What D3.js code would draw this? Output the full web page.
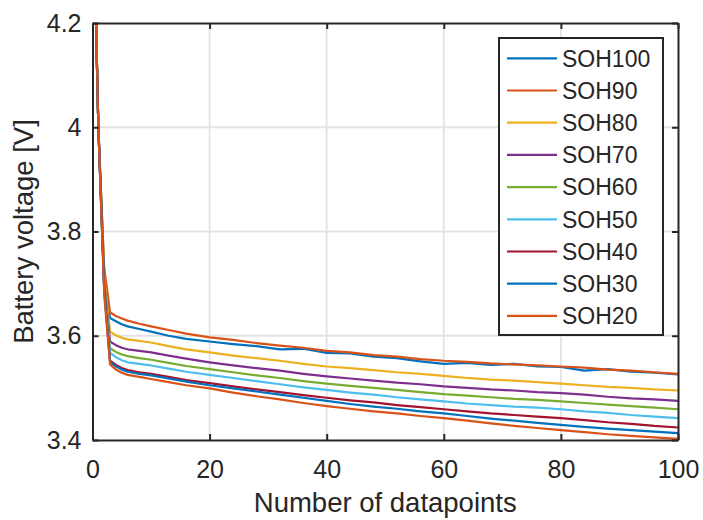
<!DOCTYPE html>
<html>
<head>
<meta charset="utf-8">
<script src="https://cdn.jsdelivr.net/npm/d3@7"></script>
<style>
  html, body { margin: 0; padding: 0; background: #fff; }
  svg { display: block; }
  text { font-family: "Liberation Sans", Arial, Helvetica, sans-serif; fill: #262626; }
</style>
</head>
<body>
<svg id="chart" width="703" height="520"></svg>
<script>
// ---------------- data ----------------
const xValues = [0,1,2,3,4,5,6,8,10,13,16,20,24,28,32,36,40,44,48,52,56,60,64,68,72,76,80,84,88,92,96,100];

const seriesNames = ["SOH100","SOH90","SOH80","SOH70","SOH60","SOH50","SOH40","SOH30","SOH20"];

const soh100 = [4.50,4.00,3.72,3.634,3.628,3.622,3.618,3.613,3.608,3.600,3.594,3.589,3.584,3.580,3.574,3.575,3.567,3.566,3.560,3.557,3.551,3.546,3.548,3.544,3.546,3.541,3.540,3.533,3.536,3.531,3.529,3.526];
const soh90  = [4.50,4.00,3.73,3.645,3.638,3.633,3.629,3.623,3.618,3.611,3.604,3.597,3.592,3.586,3.581,3.577,3.571,3.568,3.563,3.560,3.555,3.552,3.550,3.547,3.545,3.543,3.541,3.539,3.535,3.533,3.530,3.527];
const soh80  = [4.50,4.00,3.71,3.608,3.601,3.596,3.593,3.590,3.587,3.580,3.574,3.568,3.562,3.557,3.552,3.546,3.541,3.538,3.534,3.530,3.527,3.523,3.519,3.516,3.514,3.511,3.508,3.505,3.502,3.500,3.497,3.495];
const soh70  = [4.50,4.00,3.70,3.589,3.582,3.577,3.574,3.571,3.568,3.562,3.556,3.549,3.543,3.538,3.533,3.527,3.522,3.518,3.514,3.510,3.507,3.503,3.500,3.497,3.495,3.492,3.490,3.487,3.483,3.480,3.478,3.475];
const soh60  = [4.50,4.00,3.70,3.576,3.569,3.564,3.561,3.557,3.554,3.548,3.542,3.536,3.530,3.524,3.519,3.513,3.508,3.504,3.500,3.496,3.492,3.488,3.485,3.482,3.479,3.477,3.474,3.471,3.468,3.465,3.462,3.459];
const soh50  = [4.50,4.00,3.69,3.567,3.559,3.553,3.549,3.546,3.543,3.537,3.531,3.525,3.519,3.513,3.507,3.501,3.496,3.491,3.487,3.482,3.478,3.474,3.470,3.467,3.464,3.462,3.459,3.455,3.452,3.448,3.445,3.442];
const soh40  = [4.50,4.00,3.69,3.552,3.544,3.538,3.534,3.530,3.527,3.521,3.515,3.509,3.503,3.497,3.492,3.486,3.481,3.476,3.472,3.467,3.463,3.459,3.455,3.451,3.448,3.445,3.442,3.438,3.434,3.431,3.427,3.424];
const soh30  = [4.50,4.00,3.69,3.550,3.541,3.535,3.531,3.527,3.524,3.518,3.512,3.505,3.499,3.493,3.487,3.481,3.475,3.469,3.464,3.460,3.455,3.451,3.446,3.441,3.437,3.433,3.429,3.425,3.422,3.419,3.416,3.413];
const soh20  = [4.50,4.00,3.68,3.545,3.535,3.529,3.525,3.521,3.517,3.511,3.505,3.499,3.491,3.484,3.478,3.471,3.465,3.460,3.455,3.451,3.446,3.442,3.437,3.432,3.427,3.423,3.419,3.415,3.411,3.408,3.405,3.402];

const seriesValues = [soh100, soh90, soh80, soh70, soh60, soh50, soh40, soh30, soh20];
const seriesColors = ["#0072BD","#D95319","#EDB120","#7E2F8E","#77AC30","#4DBEEE","#A2142F","#0072BD","#D95319"];

const xTicks = [0,20,40,60,80,100];
const yTicks = [3.4,3.6,3.8,4.0,4.2];
const xTickLabels = ["0","20","40","60","80","100"];
const yTickLabels = ["3.4","3.6","3.8","4","4.2"];

const xLabel = "Number of datapoints";
const yLabel = "Battery voltage [V]";

// ---------------- layout ----------------
const L = 92.5, R = 678, T = 23, B = 440;
const axisColor = "#262626";

const svg = d3.select("#chart");
const x = d3.scaleLinear().domain([0,100]).range([L,R]);
const y = d3.scaleLinear().domain([3.4,4.2]).range([B,T]);

// grid
const grid = svg.append("g");
grid.selectAll("line.gx").data(xTicks.slice(1,-1)).enter().append("line")
  .attr("x1", d => x(d)).attr("x2", d => x(d)).attr("y1", T).attr("y2", B)
  .attr("stroke", "#e3e3e3").attr("stroke-width", 1.8);
grid.selectAll("line.gy").data(yTicks.slice(1,-1)).enter().append("line")
  .attr("x1", L).attr("x2", R).attr("y1", d => y(d)).attr("y2", d => y(d))
  .attr("stroke", "#e3e3e3").attr("stroke-width", 1.8);

// clip
svg.append("defs").append("clipPath").attr("id","plotclip")
  .append("rect").attr("x", L).attr("y", T).attr("width", R-L).attr("height", B-T);

// lines
const line = d3.line().x((d,i) => x(xValues[i])).y(d => y(d));
const lines = svg.append("g").attr("clip-path","url(#plotclip)");
seriesValues.forEach((vals, k) => {
  lines.append("path").datum(vals)
    .attr("d", line)
    .attr("fill","none")
    .attr("stroke", seriesColors[k])
    .attr("stroke-width", 2.2)
    .attr("stroke-linejoin","round");
});

// axes
const fontTick = 25;
const xAxisB = d3.axisBottom(x).tickValues(xTicks).tickFormat((d,i) => xTickLabels[i])
  .tickSizeInner(-6).tickSizeOuter(0).tickPadding(20);
const xAxisT = d3.axisTop(x).tickValues(xTicks).tickFormat("")
  .tickSizeInner(-6).tickSizeOuter(0);
const yAxisL = d3.axisLeft(y).tickValues(yTicks).tickFormat((d,i) => yTickLabels[i])
  .tickSizeInner(-6).tickSizeOuter(0).tickPadding(11);
const yAxisR = d3.axisRight(y).tickValues(yTicks).tickFormat("")
  .tickSizeInner(-6).tickSizeOuter(0);

function styleAxis(g) {
  g.attr("font-size", null).attr("font-family", null);
  g.selectAll("path.domain").attr("stroke", axisColor).attr("stroke-width", 2);
  g.selectAll(".tick line").attr("stroke", axisColor).attr("stroke-width", 2);
  g.selectAll(".tick text").attr("fill", axisColor).style("font-size", fontTick + "px");
}
svg.append("g").attr("transform", `translate(0,${B})`).call(xAxisB).call(styleAxis);
svg.append("g").attr("transform", `translate(0,${T})`).call(xAxisT).call(styleAxis);
svg.append("g").attr("transform", `translate(${L},0)`).call(yAxisL).call(styleAxis);
svg.append("g").attr("transform", `translate(${R},0)`).call(yAxisR).call(styleAxis);

// axis labels
svg.append("text").attr("x", (L+R)/2).attr("y", 512)
  .attr("text-anchor","middle").style("font-size","27.5px").text(xLabel);
svg.append("text").attr("transform", `translate(33,${(T+B)/2}) rotate(-90)`)
  .attr("text-anchor","middle").style("font-size","27.5px").text(yLabel);

// legend
const lg = svg.append("g");
lg.append("rect").attr("x", 499).attr("y", 38).attr("width", 164).attr("height", 297)
  .attr("fill","#fff").attr("stroke", axisColor).attr("stroke-width", 2);
seriesNames.forEach((name, k) => {
  const cy = 58.3 + k * 32.2;
  lg.append("line").attr("x1", 507).attr("x2", 557).attr("y1", cy).attr("y2", cy)
    .attr("stroke", seriesColors[k]).attr("stroke-width", 2.2);
  lg.append("text").attr("x", 562).attr("y", cy).attr("dy","0.36em")
    .style("font-size","23px").text(name);
});
</script>
</body>
</html>
